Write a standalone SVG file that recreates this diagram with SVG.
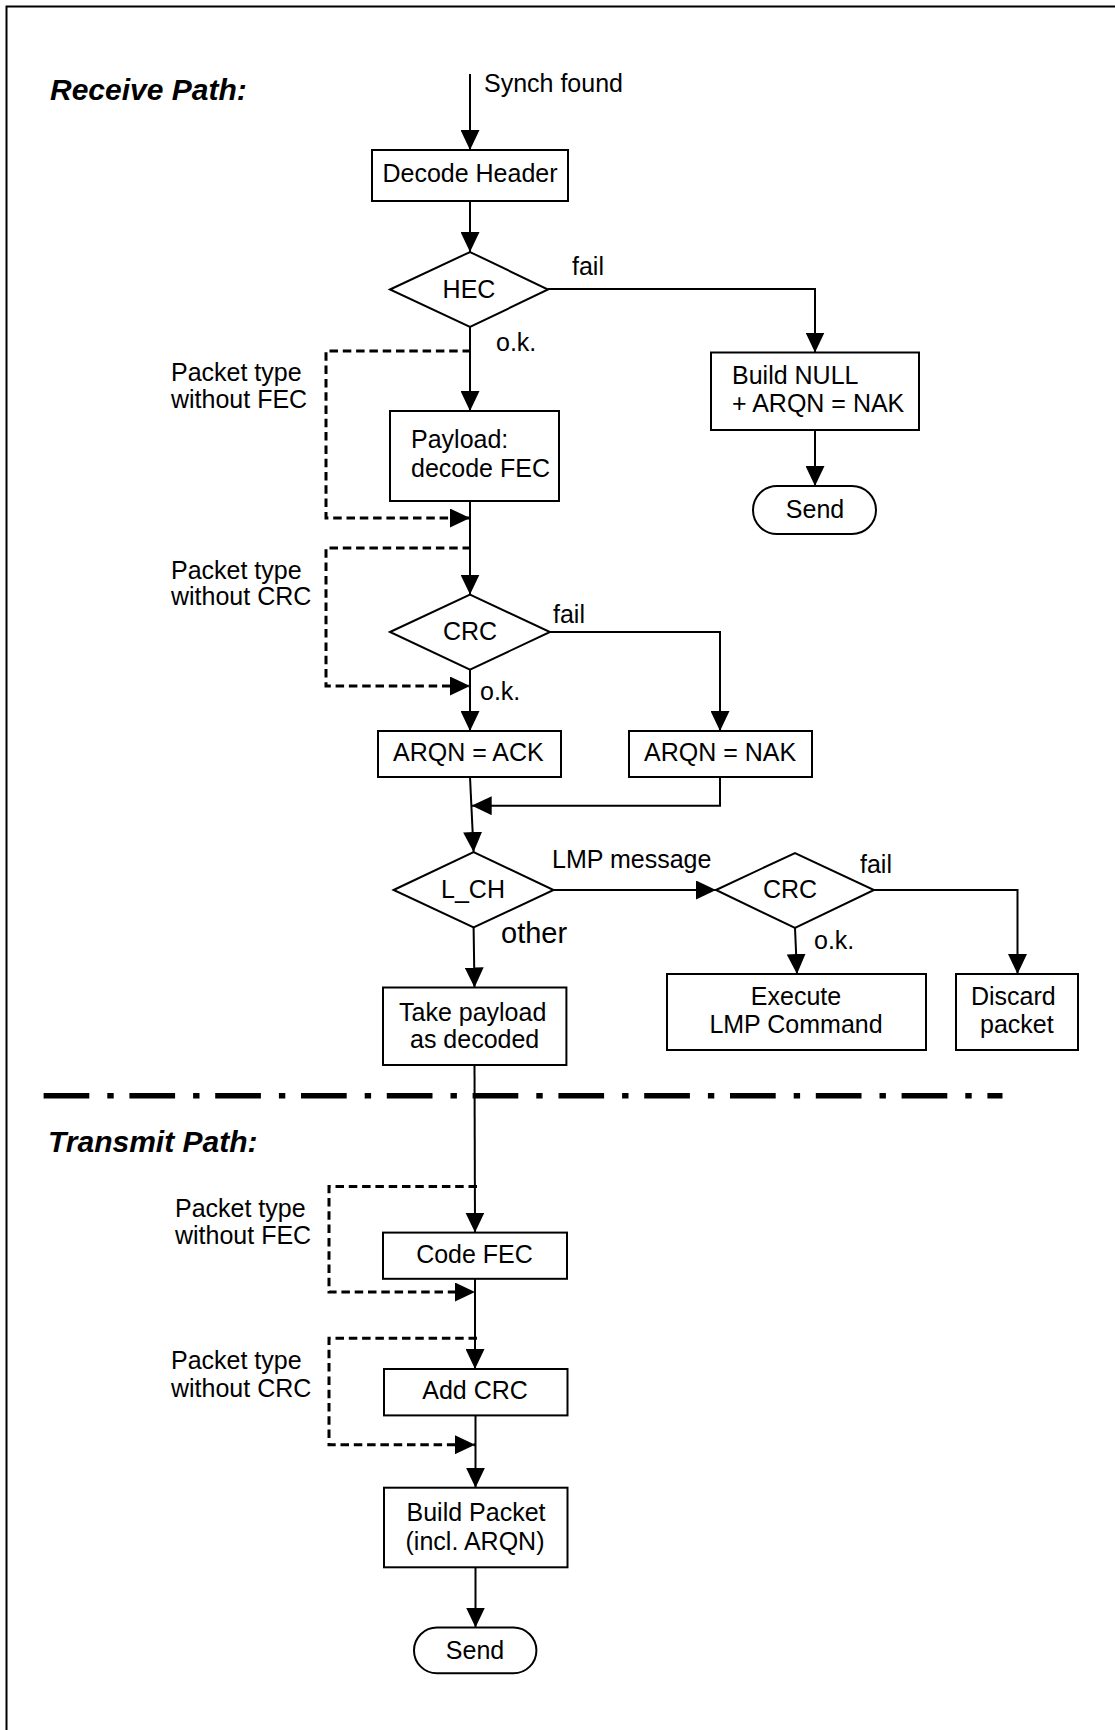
<svg xmlns="http://www.w3.org/2000/svg" width="1115" height="1730" viewBox="0 0 1115 1730">
<style>
  text { font-family: "Liberation Sans", Arial, sans-serif; font-size: 25px; fill: #000; }
  .title { font-size: 30px; font-weight: bold; font-style: italic; }
  .big { font-size: 29px; }
  .mid { text-anchor: middle; }
  .box { fill: #fff; stroke: #000; stroke-width: 2; }
  .ln { fill: none; stroke: #000; stroke-width: 2; }
  .dash { fill: none; stroke: #000; stroke-width: 3; stroke-dasharray: 8.5 4.8; }
</style>
<defs>
  <marker id="ah" viewBox="0 0 20 19" refX="20" refY="9.5" markerWidth="20" markerHeight="19" markerUnits="userSpaceOnUse" orient="auto">
    <path d="M0,0 L20,9.5 L0,19 z" fill="#000"/>
  </marker>
</defs>
<rect width="1115" height="1730" fill="#fff"/>
<path d="M6.5,1730 V6.5 H1115" fill="none" stroke="#000" stroke-width="2"/>

<text class="title" x="50" y="100">Receive Path:</text>
<text class="title" x="48" y="1152">Transmit Path:</text>

<g id="connectors">
  <path class="ln" d="M470,74 V150" marker-end="url(#ah)"/>
  <path class="ln" d="M470,201 V252" marker-end="url(#ah)"/>
  <path class="ln" d="M548,289 H815 V352.5" marker-end="url(#ah)"/>
  <path class="ln" d="M815,430 V486" marker-end="url(#ah)"/>
  <path class="ln" d="M470,327 V411" marker-end="url(#ah)"/>
  <path class="ln" d="M470,501 V594.6" marker-end="url(#ah)"/>
  <path class="dash" d="M471,351 H326 V518 H470" marker-end="url(#ah)"/>
  <path class="dash" d="M471,548 H326 V686 H470" marker-end="url(#ah)"/>
  <path class="ln" d="M550,632 H720 V731" marker-end="url(#ah)"/>
  <path class="ln" d="M470,669.6 V731" marker-end="url(#ah)"/>
  <path class="ln" d="M720,777 V805.7 H471.7" marker-end="url(#ah)"/>
  <path class="ln" d="M470,777 L473.6,852" marker-end="url(#ah)"/>
  <path class="ln" d="M553.6,890 H716" marker-end="url(#ah)"/>
  <path class="ln" d="M874,890 H1017.5 V974" marker-end="url(#ah)"/>
  <path class="ln" d="M795,928 L797,974" marker-end="url(#ah)"/>
  <path class="ln" d="M473.6,927.5 L474.5,987.5" marker-end="url(#ah)"/>
  <path class="ln" d="M474.5,1065 L475,1232.6" marker-end="url(#ah)"/>
  <path class="dash" d="M477,1186.4 H329 V1292 H475" marker-end="url(#ah)"/>
  <path class="ln" d="M475,1278.8 V1369" marker-end="url(#ah)"/>
  <path class="dash" d="M477,1338.2 H329 V1444.7 H475" marker-end="url(#ah)"/>
  <path class="ln" d="M475.5,1415.4 V1487.7" marker-end="url(#ah)"/>
  <path class="ln" d="M475.5,1567.3 V1627.5" marker-end="url(#ah)"/>
</g>

<line x1="43.6" y1="1095.7" x2="1002.5" y2="1095.7" stroke="#000" stroke-width="5.4" stroke-dasharray="45.7 18 6.4 15.7"/>

<g id="labels">
  <text x="484" y="92">Synch found</text>
  <text x="572" y="275">fail</text>
  <text x="496" y="351">o.k.</text>
  <text x="171" y="381">Packet type</text>
  <text x="171" y="408">without FEC</text>
  <text x="171" y="578.6">Packet type</text>
  <text x="171" y="605">without CRC</text>
  <text x="553" y="623">fail</text>
  <text x="480" y="700">o.k.</text>
  <text x="552" y="868">LMP message</text>
  <text x="860" y="873">fail</text>
  <text x="814" y="949">o.k.</text>
  <text class="big" x="501" y="943">other</text>
  <text x="175" y="1217.3">Packet type</text>
  <text x="175" y="1243.8">without FEC</text>
  <text x="171" y="1369.2">Packet type</text>
  <text x="171" y="1396.5">without CRC</text>
</g>

<g id="decode-header">
  <rect class="box" x="372" y="150" width="196" height="51"/>
  <text class="mid" x="470" y="182">Decode Header</text>
</g>
<g id="hec">
  <polygon class="box" points="390,289.5 470,252 548,289.5 470,327"/>
  <text class="mid" x="469" y="298">HEC</text>
</g>
<g id="build-null">
  <rect class="box" x="711" y="352.5" width="208" height="77.5"/>
  <text x="732" y="384">Build NULL</text>
  <text x="732" y="411.5">+ ARQN = NAK</text>
</g>
<g id="send-1">
  <rect class="box" x="753" y="486" width="123" height="48" rx="24" ry="24"/>
  <text class="mid" x="815" y="518">Send</text>
</g>
<g id="payload">
  <rect class="box" x="390" y="411" width="169" height="90"/>
  <text x="411" y="448">Payload:</text>
  <text x="411" y="477">decode FEC</text>
</g>
<g id="crc-1">
  <polygon class="box" points="390,632 470,594.6 550,632 470,669.6"/>
  <text class="mid" x="470" y="640">CRC</text>
</g>
<g id="arqn-ack">
  <rect class="box" x="378" y="731" width="183" height="46"/>
  <text x="393" y="761">ARQN = ACK</text>
</g>
<g id="arqn-nak">
  <rect class="box" x="629" y="731" width="183" height="46"/>
  <text x="644" y="761">ARQN = NAK</text>
</g>
<g id="l-ch">
  <polygon class="box" points="393.6,890 473.6,852 553.6,890 473.6,927.5"/>
  <text class="mid" x="473" y="898">L_CH</text>
</g>
<g id="crc-2">
  <polygon class="box" points="716,890 795,853 874,890 795,928"/>
  <text class="mid" x="790" y="898">CRC</text>
</g>
<g id="execute-lmp">
  <rect class="box" x="667" y="974" width="259" height="76"/>
  <text class="mid" x="796" y="1005">Execute</text>
  <text class="mid" x="796" y="1033">LMP Command</text>
</g>
<g id="discard">
  <rect class="box" x="956" y="974" width="122" height="76"/>
  <text x="971" y="1005">Discard</text>
  <text x="980" y="1033">packet</text>
</g>
<g id="take-payload">
  <rect class="box" x="383" y="987.5" width="183.4" height="77.5"/>
  <text x="399" y="1020.7">Take payload</text>
  <text x="410" y="1047.5">as decoded</text>
</g>
<g id="code-fec">
  <rect class="box" x="383" y="1232.6" width="184" height="46.2"/>
  <text class="mid" x="474.5" y="1262.7">Code FEC</text>
</g>
<g id="add-crc">
  <rect class="box" x="384" y="1369" width="183.5" height="46.4"/>
  <text class="mid" x="475" y="1399.3">Add CRC</text>
</g>
<g id="build-packet">
  <rect class="box" x="384" y="1487.7" width="183.5" height="79.6"/>
  <text class="mid" x="476" y="1521">Build Packet</text>
  <text class="mid" x="475" y="1550">(incl. ARQN)</text>
</g>
<g id="send-2">
  <rect class="box" x="414" y="1627.5" width="122.4" height="45.8" rx="23" ry="23"/>
  <text class="mid" x="475" y="1658.5">Send</text>
</g>
</svg>
